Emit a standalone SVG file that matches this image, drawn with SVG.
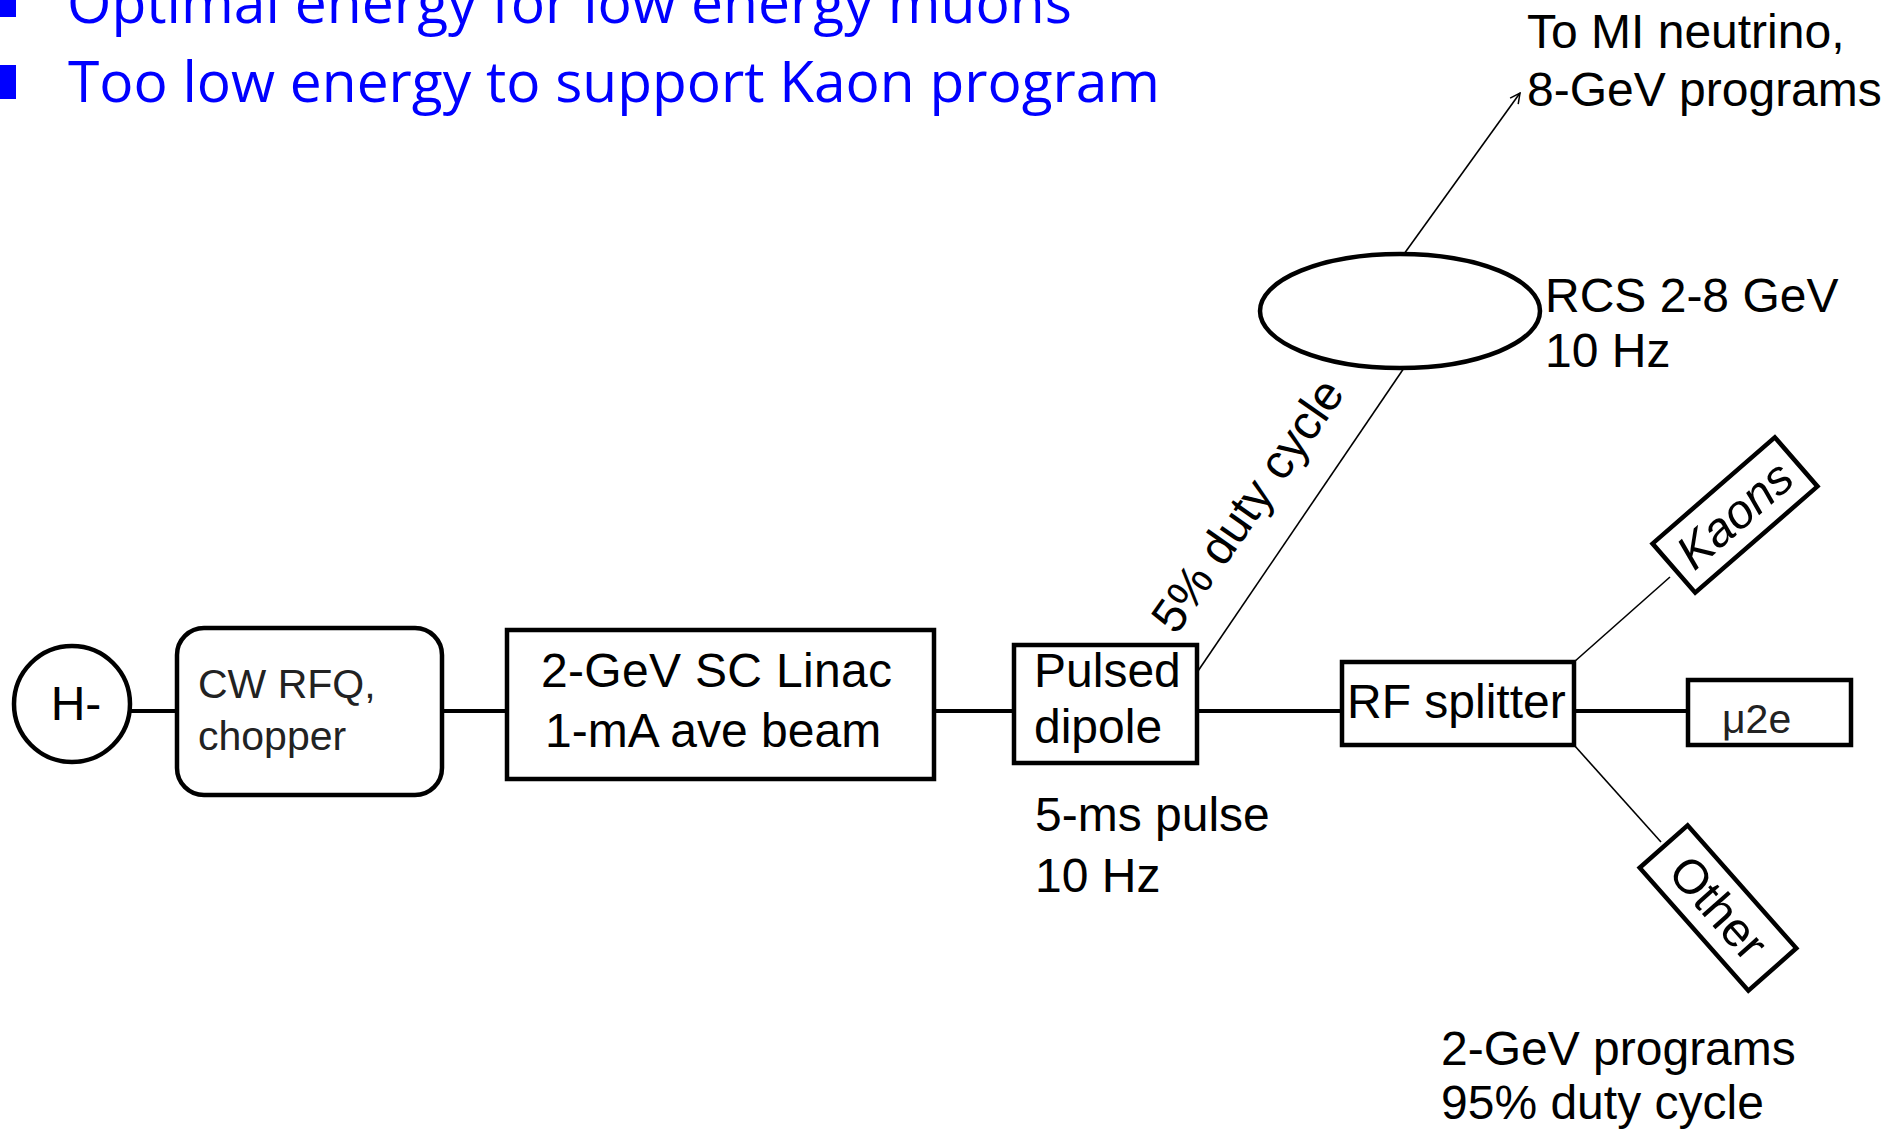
<svg xmlns="http://www.w3.org/2000/svg" width="1902" height="1131" viewBox="0 0 1902 1131">
<defs>
<style>
.bg{fill:#ffffff}
.box{fill:#ffffff;stroke:#000;stroke-width:4.5}
.t{font-family:"Liberation Sans",Arial,sans-serif;font-size:48px;fill:#000}
.ts{font-family:"Liberation Sans",Arial,sans-serif;font-size:41px;fill:#222}
.bul{font-family:"Open Sans","DejaVu Sans",sans-serif;font-size:56px;fill:#0000ff}
.thick{stroke:#000;stroke-width:4;fill:none}
.thin{stroke:#000;stroke-width:1.6;fill:none}
</style>
<marker id="arr" viewBox="0 0 12 12" refX="11" refY="6" markerWidth="12" markerHeight="12" markerUnits="userSpaceOnUse" orient="auto">
<path d="M1,1 L11,6 L1,11" fill="none" stroke="#000" stroke-width="1.5"/>
</marker>
</defs>
<rect class="bg" x="0" y="0" width="1902" height="1131"/>

<g id="bullets">
<rect x="-18" y="-17" width="34" height="34" fill="#0000ff"/>
<text class="bul" x="67" y="23" textLength="1005" lengthAdjust="spacingAndGlyphs">Optimal energy for low energy muons</text>
<rect x="-18" y="65" width="34" height="34" fill="#0000ff"/>
<text class="bul" x="68" y="102" textLength="1092" lengthAdjust="spacingAndGlyphs">Too low energy to support Kaon program</text>
</g>

<g id="connectors">
<line class="thick" x1="130" y1="711" x2="177" y2="711"/>
<line class="thick" x1="442" y1="711" x2="507" y2="711"/>
<line class="thick" x1="934" y1="711" x2="1014" y2="711"/>
<line class="thick" x1="1197" y1="711" x2="1342" y2="711"/>
<line class="thick" x1="1574" y1="711" x2="1688" y2="711"/>
<line class="thin" x1="1198" y1="671" x2="1404" y2="368"/>
<line class="thin" x1="1404" y1="254" x2="1520" y2="93" marker-end="url(#arr)"/>
<line class="thin" x1="1574" y1="662" x2="1670" y2="577"/>
<line class="thin" x1="1574" y1="745" x2="1661" y2="842"/>
</g>

<g id="node-h">
<circle class="box" cx="72" cy="704" r="58"/>
<text class="t" x="76" y="720" text-anchor="middle" font-size="50">H-</text>
</g>

<g id="node-rfq">
<rect class="box" x="177" y="628" width="265" height="167" rx="27"/>
<text class="ts" x="198" y="698">CW RFQ,</text>
<text class="ts" x="198" y="750">chopper</text>
</g>

<g id="node-linac">
<rect class="box" x="507" y="630" width="427" height="149"/>
<text class="t" x="541" y="687" textLength="351">2-GeV SC Linac</text>
<text class="t" x="545" y="747">1-mA ave beam</text>
</g>

<g id="node-dipole">
<rect class="box" x="1014" y="645" width="183" height="118"/>
<text class="t" x="1034" y="687">Pulsed</text>
<text class="t" x="1034" y="743">dipole</text>
</g>
<g id="label-pulse">
<text class="t" x="1035" y="831">5-ms pulse</text>
<text class="t" x="1035" y="892">10 Hz</text>
</g>
<g id="label-duty">
<text class="t" transform="translate(1176,636) rotate(-55)" x="0" y="0">5% duty cycle</text>
</g>

<g id="node-rcs">
<ellipse class="box" cx="1400" cy="311" rx="140" ry="57"/>
<text class="t" x="1545" y="312">RCS 2-8 GeV</text>
<text class="t" x="1545" y="367">10 Hz</text>
</g>
<g id="label-mi">
<text class="t" x="1527" y="48">To MI neutrino,</text>
<text class="t" x="1527" y="106">8-GeV programs</text>
</g>

<g id="node-splitter">
<rect class="box" x="1342" y="662" width="232" height="83"/>
<text class="t" x="1347" y="718">RF splitter</text>
</g>

<g id="node-mu2e">
<rect class="box" x="1688" y="680" width="163" height="65"/>
<text class="ts" x="1722" y="733">μ2e</text>
</g>

<g id="node-kaons" transform="translate(1735,515) rotate(-41)">
<rect class="box" x="-81" y="-32.5" width="162" height="65"/>
<text class="t" x="0" y="16" text-anchor="middle" font-style="italic" font-size="46">Kaons</text>
</g>

<g id="node-other" transform="translate(1718,908) rotate(48.5)">
<rect class="box" x="-82" y="-32" width="164" height="64"/>
<text class="t" x="0" y="16" text-anchor="middle" font-size="46">Other</text>
</g>

<g id="label-2gev">
<text class="t" x="1441" y="1065">2-GeV programs</text>
<text class="t" x="1441" y="1119">95% duty cycle</text>
</g>
</svg>
